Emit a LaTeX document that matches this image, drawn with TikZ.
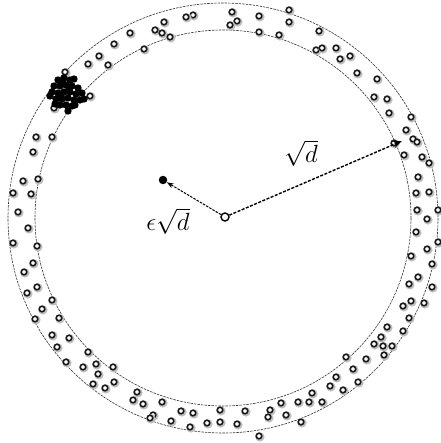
\documentclass[tikz,border=0pt]{standalone}
\usetikzlibrary{arrows.meta}
\begin{document}
\begin{tikzpicture}[x=1pt,y=-1pt,
  ring/.style={draw=black!80,line width=0.6pt,dash pattern=on 2.5pt off 1pt},
  odot/.style={draw=black!90,line width=1.6pt,fill=white},
  halo/.style={draw=black!25,line width=2.4pt},
  lbl/.style={font=\fontsize{24}{28}\selectfont,inner sep=0pt}]
\useasboundingbox (0,0) rectangle (440,443);
% rings
\draw[ring] (223,218) circle (215);
\draw[ring] (223,218) circle (188);
% open dots
\foreach \x/\y in {193/15,186/17,164/22,155/30,162/33,170/37,130/33,144/49,114/44,99/56,108/65,88/64,65/72,90/96,54/108,
 36/137,52/137,33/152,38/179,23/181,13/193,31/194,18/212,
 232/12,237/21,230/25,259/16,289/10,289/22,259/32,279/35,319/31,316/50,322/48,336/48,340/59,350/56,357/73,377/79,374/97,387/99,389/113,411/117,406/130,413/139,417/142,394/143,404/155,422/157,429/163,418/177,429/192,416/193,417/210,427/219,438/210,
 28/228,13/243,37/246,33/263,24/272,37/287,27/293,52/300,42/309,35/319,59/318,52/335,69/338,57/347,88/352,66/362,83/367,96/364,113/367,98/374,93/384,105/388,114/382,137/392,133/400,143/404,162/402,153/415,150/418,171/421,181/411,193/413,190/427,207/423,220/410,220/422,
 416/232,438/242,427/249,411/256,432/264,418/277,409/284,432/287,411/301,403/306,424/303,409/318,387/327,403/331,381/337,374/344,383/346,392/346,384/355,346/357,366/359,353/369,336/377,358/382,330/386,343/390,312/393,322/402,309/402,298/402,281/403,270/410,268/417,286/415,301/422,245/411,237/424,259/436}
 {\draw[halo] (\x+0.9,\y+0.9) circle (3.4);
  \draw[odot] (\x,\y) circle (2.8);}
% filled cluster
\foreach \x/\y in {58/80,64/78,70/80,74/79,54/86,60/86,66/85,72/86,78/88,52/92,58/93,64/92,70/92,76/94,82/93,50/96,56/99,62/99,68/98,74/100,80/100,60/105,66/105,72/106,68/111,63/83,69/89,61/96,75/105,84/99,55/104}
 {\fill[black] (\x,\y) circle (3.7);}
% centre and displaced point
\node[circle,draw=black,line width=1.4pt,fill=white,minimum size=8pt,inner sep=0pt] (o) at (225,217) {};
\node[circle,fill=black,minimum size=8.5pt,inner sep=0pt] (p) at (163,180) {};
\coordinate (t) at (402,141);
\draw[line width=1.4pt,dash pattern=on 3pt off 1.5pt,-{Stealth[length=9pt,width=7pt]}] (o) -- (t);
\draw[line width=1pt,dash pattern=on 2.5pt off 1.2pt,-{Stealth[length=7pt,width=5pt]}] (o) -- (p);
% labels
\node[lbl] (l1) at (301,153) {$\sqrt{d}$};
\node[lbl] (l2) at (168,221) {$\epsilon\sqrt{d}$};
\end{tikzpicture}
\end{document}
